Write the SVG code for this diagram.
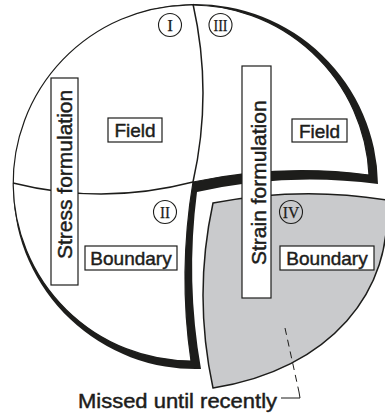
<svg xmlns="http://www.w3.org/2000/svg" width="385" height="415" viewBox="0 0 385 415">
<style>
 .lbl{font-family:"Liberation Sans",Arial,sans-serif;font-size:19px;fill:#1d1d1b;stroke:#1d1d1b;stroke-width:0.45;text-anchor:middle}
 .vlbl{font-family:"Liberation Sans",Arial,sans-serif;font-size:21px;fill:#1d1d1b;stroke:#1d1d1b;stroke-width:0.45}
 .box{fill:#fff;stroke:#1d1d1b;stroke-width:1.2}
 .num circle{fill:none;stroke:#1d1d1b;stroke-width:1.1}
 .num text{font-family:"Liberation Serif","Times New Roman",serif;font-size:17px;fill:#1d1d1b;stroke:#1d1d1b;stroke-width:0.25;text-anchor:middle}
 .div{fill:none;stroke:#1d1d1b;stroke-width:1.5}
 .lead{fill:none;stroke:#1d1d1b;stroke-width:1}
</style>
<rect width="385" height="415" fill="#fff"/>
<g id="sphere-upper">
 <path d="M378,184 A182.5,182.5 0 1 0 201,369 Q185.5,281 197,192 Q287,172 378,184 Z" fill="#1d1d1b"/>
 <path d="M369,175 A178,178 0 1 0 191,361 Q178,272.5 193,182 Q281,163.5 369,175 Z" fill="#fff" stroke="#1d1d1b" stroke-width="1.2"/>
</g>
<g id="dividers">
 <path class="div" d="M13,183 Q103,205.5 193,182"/>
 <path class="div" d="M193,4 Q213,93 193,182"/>
</g>
<g id="quadrant-IV">
 <path d="M213,203 Q301,186 386,200 C395,290 330,370 213,388 Q193,295 213,203 Z" fill="#c9cacc" stroke="#1d1d1b" stroke-width="1.5"/>
</g>
<g id="stress-formulation">
 <rect class="box" x="51" y="78" width="27" height="207"/>
 <text class="vlbl" transform="translate(72,259) rotate(-90)">Stress formulation</text>
</g>
<g id="strain-formulation">
 <rect class="box" x="242" y="66" width="29" height="232"/>
 <text class="vlbl" transform="translate(265.5,265) rotate(-90)">Strain formulation</text>
</g>
<g id="field-I">
 <rect class="box" x="108" y="118" width="54" height="24"/>
 <text class="lbl" x="135" y="137">Field</text>
</g>
<g id="field-III">
 <rect class="box" x="292" y="119" width="55" height="23"/>
 <text class="lbl" x="319.5" y="137.5">Field</text>
</g>
<g id="boundary-II">
 <rect class="box" x="85" y="246" width="92" height="24"/>
 <text class="lbl" x="131" y="265">Boundary</text>
</g>
<g id="boundary-IV">
 <rect class="box" x="280" y="246" width="94" height="24"/>
 <text class="lbl" x="327" y="265">Boundary</text>
</g>
<g id="num-I" class="num"><circle cx="170" cy="25" r="11.5"/><text x="170" y="30.8">I</text></g>
<g id="num-III" class="num"><circle cx="220.5" cy="25" r="11.5"/><text x="220.5" y="30.8" textLength="14" lengthAdjust="spacingAndGlyphs">III</text></g>
<g id="num-II" class="num"><circle cx="165" cy="212" r="11.5"/><text x="165" y="217.8" textLength="10" lengthAdjust="spacingAndGlyphs">II</text></g>
<g id="num-IV" class="num"><circle cx="291" cy="212" r="11.5"/><text x="291" y="217.8" textLength="16.5" lengthAdjust="spacingAndGlyphs">IV</text></g>
<g id="connectors">
 <path class="lead" d="M285,328 L299,392" stroke-dasharray="7 5"/>
 <path class="lead" d="M299,392 L300,398 L281,398"/>
</g>
<g id="note">
 <text x="78" y="408" font-family="'Liberation Sans',Arial,sans-serif" font-size="20" fill="#1d1d1b" stroke="#1d1d1b" stroke-width="0.45" textLength="199" lengthAdjust="spacingAndGlyphs">Missed until recently</text>
</g>
</svg>
